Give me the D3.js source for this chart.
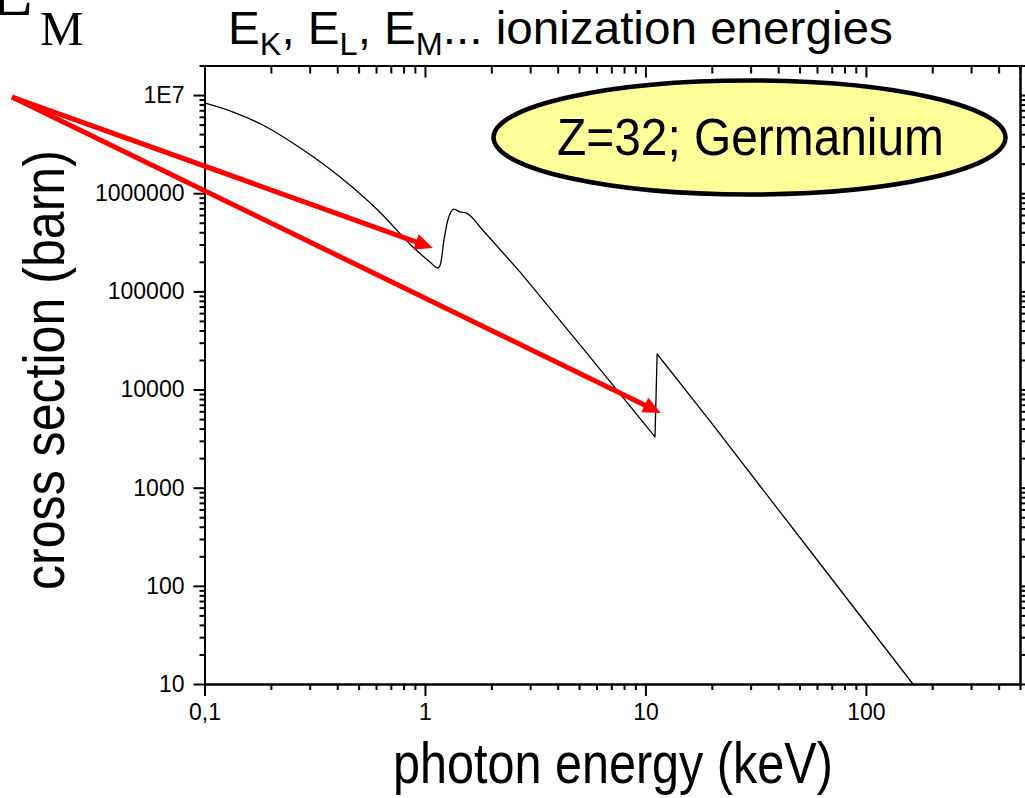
<!DOCTYPE html>
<html>
<head>
<meta charset="utf-8">
<script src="https://cdn.jsdelivr.net/npm/d3@7"></script>
<style>
  html, body { margin: 0; padding: 0; background: #fff; }
  svg { display: block; }
  text { font-family: "Liberation Sans", Arial, sans-serif; fill: #000; }
</style>
</head>
<body>
<svg id="chart" width="1025" height="798"></svg>
<script>
// Photoabsorption cross section of germanium vs photon energy
const energyKeV = [0.1, 0.135, 0.192, 0.271, 0.412, 0.625, 0.882, 1.054, 1.146, 1.176,
                   1.22, 1.27, 1.31, 1.353, 1.441, 1.534, 1.776, 2.697, 5.60, 11.05,
                   11.3, 19.6, 55.7, 163.4];
const crossSectionBarn = [8.3e6, 6.7e6, 4.7e6, 2.9e6, 1.46e6, 6.4e5, 2.83e5, 1.99e5, 1.73e5, 1.9e5,
                          3.34e5, 5.33e5, 6.44e5, 6.9e5, 6.44e5, 6.29e5, 4.53e5, 1.58e5, 2.15e4, 3290,
                          2.3e4, 4790, 229, 10];
// Above this energy the tabulated points are joined by straight segments
const smoothUpToKeV = 1.776;

// Axis ticks
const xMajorTicks = [0.1, 1, 10, 100];
const xMajorLabels = ["0,1", "1", "10", "100"];
const xMinorTicks = [0.2,0.3,0.4,0.5,0.6,0.7,0.8,0.9, 2,3,4,5,6,7,8,9, 20,30,40,50,60,70,80,90, 200,300,400,500];
const yMajorTicks = [10, 100, 1000, 10000, 100000, 1000000, 1e7];
const yMajorLabels = ["10", "100", "1000", "10000", "100000", "1000000", "1E7"];
const yMinorTicks = [];
yMajorTicks.forEach(d => {
  [2,3,4,5,6,7,8,9].forEach(m => { if (d * m <= 2e7) yMinorTicks.push(d * m); });
});

// Arrows pointing from the E_M label to the L and K absorption edges
const arrowStart = [0.01339, 9.54e6];
const arrowTips = [[1.087, 2.77e5], [11.76, 5778]];

const titleParts = [
  { t: "E", sub: false }, { t: "K", sub: true }, { t: ", E", sub: false }, { t: "L", sub: true },
  { t: ", E", sub: false }, { t: "M", sub: true }, { t: "... ionization energies", sub: false }
];

const svg = d3.select("#chart");
const plotLeft = 204.5, plotRight = 1020, plotTop = 65.5, plotBottom = 684;

const x = d3.scaleLog().domain([0.1, 500]).range([plotLeft, plotRight]);
const y = d3.scaleLog().domain([10, 2e7]).range([plotBottom, plotTop]);

function styleAxis(g) {
  g.select(".domain").attr("stroke", "#000").attr("stroke-width", 2);
  g.selectAll(".tick line").attr("stroke", "#000").attr("stroke-width", 2);
  g.selectAll(".tick text").style("font-size", "23px").attr("fill", "#000")
    .style("font-family", "'Liberation Sans', Arial, sans-serif");
}

// Bottom axis
svg.append("g").attr("transform", `translate(0,${plotBottom})`)
  .call(d3.axisBottom(x).tickValues(xMinorTicks).tickSize(6).tickSizeOuter(0).tickFormat(""))
  .call(styleAxis);
svg.append("g").attr("transform", `translate(0,${plotBottom})`)
  .call(d3.axisBottom(x).tickValues(xMajorTicks).tickSize(12).tickSizeOuter(0).tickPadding(8)
        .tickFormat((d, i) => xMajorLabels[i]))
  .call(styleAxis);

// Top axis (ticks pointing inward)
svg.append("g").attr("transform", `translate(0,${plotTop})`)
  .call(d3.axisBottom(x).tickValues(xMinorTicks).tickSize(8).tickSizeOuter(0).tickFormat(""))
  .call(styleAxis);
svg.append("g").attr("transform", `translate(0,${plotTop})`)
  .call(d3.axisBottom(x).tickValues(xMajorTicks).tickSize(12).tickSizeOuter(0).tickFormat(""))
  .call(styleAxis);

// Left axis
svg.append("g").attr("transform", `translate(${plotLeft},0)`)
  .call(d3.axisLeft(y).tickValues(yMinorTicks).tickSize(5).tickSizeOuter(0).tickFormat(""))
  .call(styleAxis);
svg.append("g").attr("transform", `translate(${plotLeft},0)`)
  .call(d3.axisLeft(y).tickValues(yMajorTicks).tickSize(11).tickSizeOuter(0).tickPadding(9)
        .tickFormat((d, i) => yMajorLabels[i]))
  .call(styleAxis);

// Right axis
svg.append("g").attr("transform", `translate(${plotRight},0)`)
  .call(d3.axisRight(y).tickValues(yMinorTicks).tickSize(5).tickSizeOuter(0).tickFormat(""))
  .call(styleAxis);
svg.append("g").attr("transform", `translate(${plotRight},0)`)
  .call(d3.axisRight(y).tickValues(yMajorTicks).tickSize(10).tickSizeOuter(0).tickFormat(""))
  .call(styleAxis);

// Cross-section curve: smooth around the L edge, straight segments beyond
const pts = energyKeV.map((e, i) => [e, crossSectionBarn[i]]);
const lowPart = pts.filter(p => p[0] <= smoothUpToKeV);
const highPart = pts.filter(p => p[0] >= smoothUpToKeV);
const lineSmooth = d3.line().x(d => x(d[0])).y(d => y(d[1])).curve(d3.curveMonotoneX);
const lineStraight = d3.line().x(d => x(d[0])).y(d => y(d[1]));
[[lowPart, lineSmooth], [highPart, lineStraight]].forEach(([data, gen]) => {
  svg.append("path")
    .datum(data)
    .attr("fill", "none")
    .attr("stroke", "#000")
    .attr("stroke-width", 1.3)
    .attr("stroke-linejoin", "round")
    .attr("d", gen);
});

// Red arrows
const headLen = 18, headHalf = 8;
arrowTips.forEach(tip => {
  const x0 = x(arrowStart[0]), y0 = y(arrowStart[1]);
  const x1 = x(tip[0]), y1 = y(tip[1]);
  const ang = Math.atan2(y1 - y0, x1 - x0);
  const bx = x1 - headLen * Math.cos(ang), by = y1 - headLen * Math.sin(ang);
  svg.append("line")
    .attr("x1", x0).attr("y1", y0).attr("x2", bx + 2 * Math.cos(ang)).attr("y2", by + 2 * Math.sin(ang))
    .attr("stroke", "#ff0000").attr("stroke-width", 5);
  const px = -Math.sin(ang), py = Math.cos(ang);
  svg.append("polygon")
    .attr("points", [[x1, y1], [bx + px * headHalf, by + py * headHalf], [bx - px * headHalf, by - py * headHalf]]
      .map(p => p.join(",")).join(" "))
    .attr("fill", "#ff0000");
});

// Fit a text group horizontally into a given width
function fitGroup(g, targetWidth, leftX, baseline) {
  const bb = g.node().getBBox();
  const s = targetWidth / bb.width;
  g.attr("transform", `translate(${leftX - bb.x * s},${baseline}) scale(${s},1)`);
}

// Title with subscripts
const titleG = svg.append("g");
const titleT = titleG.append("text").attr("x", 0).attr("y", 0).style("font-size", "47px");
titleParts.forEach((p, i) => {
  const prev = titleParts[i - 1];
  let dy = 0;
  if (p.sub) dy = 11;
  else if (prev && prev.sub) dy = -11;
  titleT.append("tspan")
    .text(p.t)
    .attr("dy", dy)
    .style("font-size", p.sub ? "32px" : "47px");
});
fitGroup(titleG, 665, 228, 44);

// Partial E_M label at the top-left corner
svg.append("text").attr("x", 33).attr("y", 15).attr("text-anchor", "end")
  .style("font-family", "'Liberation Serif', 'Times New Roman', serif").style("font-size", "72px").text("E");
svg.append("text").attr("x", 40).attr("y", 45)
  .style("font-family", "'Liberation Serif', 'Times New Roman', serif").style("font-size", "49px").text("M");

// Element label
svg.append("ellipse").attr("cx", 749.5).attr("cy", 137.5).attr("rx", 256).attr("ry", 57)
  .attr("fill", "#ffff99").attr("stroke", "#000").attr("stroke-width", 4.5);
const zG = svg.append("g");
zG.append("text").style("font-size", "52px").text("Z=32; Germanium");
fitGroup(zG, 387, 557, 155);

// Axis titles
const xl = svg.append("g");
xl.append("text").style("font-size", "58px").text("photon energy (keV)");
fitGroup(xl, 440, 393, 783);

const ylOuter = svg.append("g").attr("transform", "translate(64,590) rotate(-90)");
const yl = ylOuter.append("g");
yl.append("text").style("font-size", "58px").text("cross section (barn)");
fitGroup(yl, 440, 0, 0);
</script>
</body>
</html>
